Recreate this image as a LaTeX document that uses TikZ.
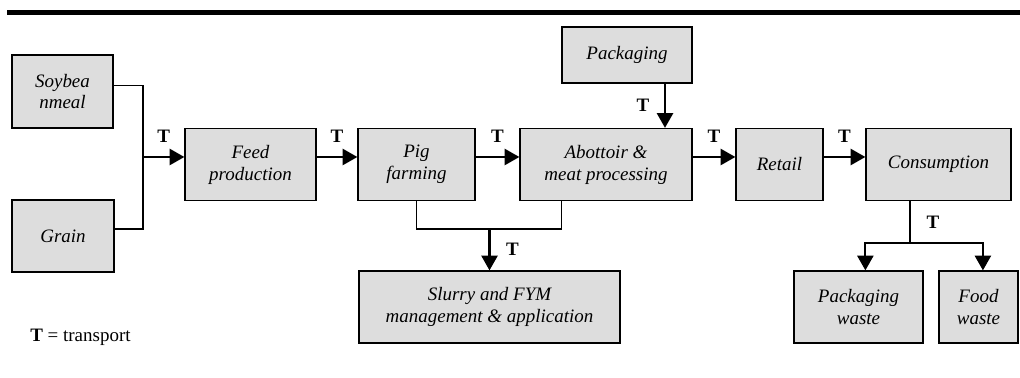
\documentclass[tikz,border=0pt]{standalone}
\usepackage{fontspec}
\setmainfont{Liberation Serif}
\usetikzlibrary{arrows.meta, positioning}
\definecolor{boxgray}{RGB}{221,221,221}
\newcommand{\flowfont}{\fontsize{13.5}{15.6}\selectfont}

\begin{document}
\begin{tikzpicture}[x=.25cm, y=.25cm,
    box/.style={draw, fill=boxgray, line width=0.9pt, align=center, inner sep=0pt, font=\flowfont\itshape},
    link/.style={line width=0.75pt},
    flow/.style={line width=1.5pt, -{Triangle[length=10.5pt, width=11.5pt]}},
    tlab/.style={font=\flowfont\bfseries}]
        \useasboundingbox (0, 0) rectangle (102, 37.8);
        \draw[line width=3.6pt] (0.7, 36.55) -- (102, 36.55);
        \node[box, minimum width=2.525cm, minimum height=1.825cm] (soy) at (6.25, 28.65) {Soybea\\nmeal};
        \node[box, minimum width=2.55cm, minimum height=1.8cm] (grain) at (6.3, 14.2) {Grain};
        \node[box, minimum width=3.275cm, minimum height=1.8cm] (feed) at (25.05, 21.35) {Feed\\production};
        \node[box, minimum width=2.925cm, minimum height=1.8cm] (pig) at (41.65, 21.35) {Pig\\farming};
        \node[box, minimum width=4.3cm, minimum height=1.8cm] (abat) at (60.6, 21.35) {Abottoir \&\\meat processing};
        \node[box, minimum width=3.25cm, minimum height=1.4cm] (pack) at (62.7, 32.3) {Packaging};
        \node[box, minimum width=2.175cm, minimum height=1.8cm] (retail) at (77.95, 21.35) {Retail};
        \node[box, minimum width=3.625cm, minimum height=1.8cm] (cons) at (93.85, 21.35) {Consumption};
        \node[box, minimum width=6.525cm, minimum height=1.8cm] (slurry) at (48.95, 7.1) {Slurry and FYM\\management \& application};
        \node[box, minimum width=3.225cm, minimum height=1.8cm] (pwaste) at (85.85, 7.1) {Packaging\\waste};
        \node[box, minimum width=1.975cm, minimum height=1.8cm] (fwaste) at (97.85, 7.1) {Food\\waste};
        \node[anchor=west, inner sep=0pt, font=\flowfont] (key) at (3, 4.1) {\textbf{T} = transport};
        \coordinate (row) at (0, 22.1);
        \coordinate (join) at (14.3, 22.1);
        \draw[link] ([yshift=1.6mm]soy.east) -| (join);
        \draw[link] ([yshift=1.75mm]grain.east) -| (join);
        \draw[flow] (join) -- (join -| feed.west) node[midway, tlab, yshift=5.25mm] {T};
        \draw[flow] (feed.east |- row) -- (pig.west |- row) node[midway, tlab, yshift=5.25mm] {T};
        \draw[flow] (pig.east |- row) -- (abat.west |- row) node[midway, tlab, yshift=5.25mm] {T};
        \draw[flow] (abat.east |- row) -- (retail.west |- row) node[midway, tlab, yshift=5.25mm] {T};
        \draw[flow] (retail.east |- row) -- (cons.west |- row) node[midway, tlab, yshift=5.25mm] {T};
        \coordinate (pk) at ([xshift=9.5mm]pack.south);
        \draw[flow] (pk) -- (pk |- abat.north) node[midway, tlab, xshift=-5.5mm] {T};
        \coordinate (sj) at (48.95, 14.9);
        \draw[link] (pig.south) |- (sj) -| (pack.west |- abat.south);
        \draw[flow] (sj) -- (slurry.north) node[midway, tlab, xshift=5.75mm] {T};
        \coordinate (cj) at (91, 13.5);
        \draw[link] (cons.south -| cj) -- (cj) node[midway, tlab, xshift=5.75mm] {T};
        \draw[flow] (cj) -| (cons.west |- pwaste.north);
        \draw[flow] (cj) -| ([xshift=1.1mm]fwaste.north);
      \end{tikzpicture}
\end{document}
